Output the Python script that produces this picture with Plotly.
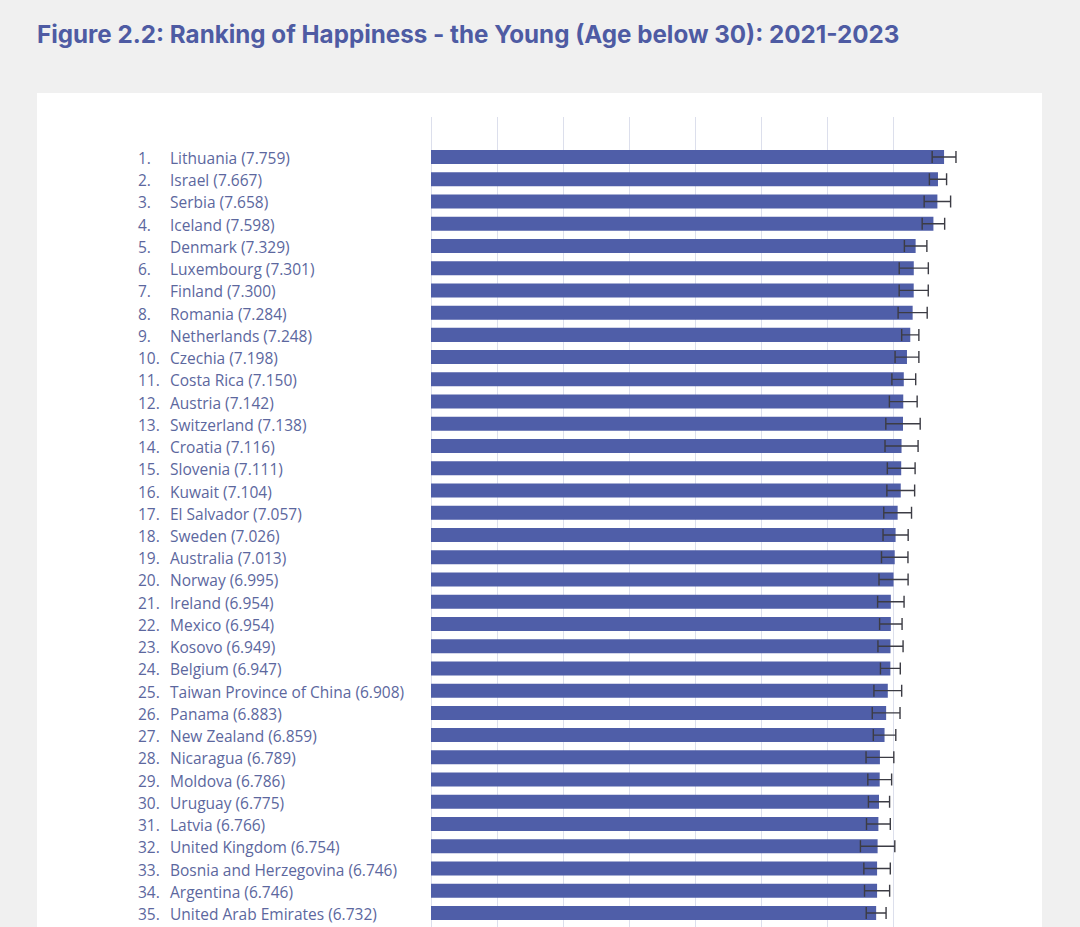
import plotly.graph_objects as go

countries = ["Lithuania", "Israel", "Serbia", "Iceland", "Denmark", "Luxembourg", "Finland",
             "Romania", "Netherlands", "Czechia", "Costa Rica", "Austria", "Switzerland", "Croatia",
             "Slovenia", "Kuwait", "El Salvador", "Sweden", "Australia", "Norway", "Ireland",
             "Mexico", "Kosovo", "Belgium", "Taiwan Province of China", "Panama", "New Zealand",
             "Nicaragua", "Moldova", "Uruguay", "Latvia", "United Kingdom",
             "Bosnia and Herzegovina", "Argentina", "United Arab Emirates"]
scores = [7.759, 7.667, 7.658, 7.598, 7.329, 7.301, 7.300, 7.284, 7.248, 7.198, 7.150, 7.142,
          7.138, 7.116, 7.111, 7.104, 7.057, 7.026, 7.013, 6.995, 6.954, 6.954, 6.949, 6.947,
          6.908, 6.883, 6.859, 6.789, 6.786, 6.775, 6.766, 6.754, 6.746, 6.746, 6.732]
ci_half = [0.18, 0.13, 0.20, 0.17, 0.17, 0.22, 0.22, 0.22, 0.13, 0.18, 0.18, 0.21, 0.26, 0.25,
           0.21, 0.21, 0.21, 0.19, 0.20, 0.22, 0.20, 0.17, 0.19, 0.15, 0.21, 0.21, 0.17, 0.21,
           0.18, 0.16, 0.18, 0.26, 0.20, 0.19, 0.15]
ranks = list(range(1, len(countries) + 1))
title_text = "Figure 2.2: Ranking of Happiness - the Young (Age below 30): 2021-2023"

W, H = 1080, 927
L, R, T, B = 431, 120, 117, 0
pw = W - L - R
ph = H - T - B

BAR = "#4f5ea8"
TXT = "#5c679e"
LABEL_FONT = dict(family="Open Sans", size=15.5, color=TXT)

fig = go.Figure()
fig.add_trace(go.Bar(
    x=scores, y=ranks, orientation="h",
    marker=dict(color=BAR, line=dict(width=0)),
    error_x=dict(type="data", array=ci_half, visible=True, color="#3c3c44",
                 thickness=1.4, width=6),
    width=0.63, hoverinfo="skip",
))

annotations = []
for r, c, s in zip(ranks, countries, scores):
    annotations.append(dict(x=(136 - L) / pw, y=r, xref="paper", yref="y", text=f"{r}.",
                            showarrow=False, xanchor="left", yanchor="middle", yshift=-1,
                            font=LABEL_FONT))
    annotations.append(dict(x=(168 - L) / pw, y=r, xref="paper", yref="y",
                            text=f"{c} ({s:.3f})",
                            showarrow=False, xanchor="left", yanchor="middle", yshift=-1,
                            font=LABEL_FONT))

fig.update_layout(
    width=W, height=H,
    margin=dict(l=L, r=R, t=T, b=B, pad=0),
    paper_bgcolor="#f0f0f0",
    plot_bgcolor="rgba(0,0,0,0)",
    showlegend=False,
    title=dict(text=f"<b>{title_text}</b>", xref="container", yref="container",
               x=37 / W, xanchor="left", y=1 - 35 / H, yanchor="middle",
               font=dict(family="Inter", size=24.2, color="#4e5ba3")),
    xaxis=dict(range=[0, 8], dtick=1, showgrid=True, gridcolor="#dcdfec", gridwidth=1,
               zeroline=True, zerolinecolor="#dcdfec", zerolinewidth=1,
               showticklabels=False, showline=False, fixedrange=True),
    yaxis=dict(range=[35 + 14 / 22.24, 1 - 40 / 22.24], showticklabels=False,
               showgrid=False, zeroline=False, showline=False, fixedrange=True),
    shapes=[dict(type="rect", xref="paper", yref="paper",
                 x0=(37 - L) / pw, x1=(1042 - L) / pw,
                 y0=-0.1, y1=(H - 93) / ph,
                 fillcolor="white", line=dict(width=0), layer="below")],
    annotations=annotations,
)

fig.write_html("out.html", config={"displayModeBar": False},
               post_script="document.body.style.margin='0';"
                           "document.body.style.background='#f0f0f0';"
                           "document.body.style.overflow='hidden';")
